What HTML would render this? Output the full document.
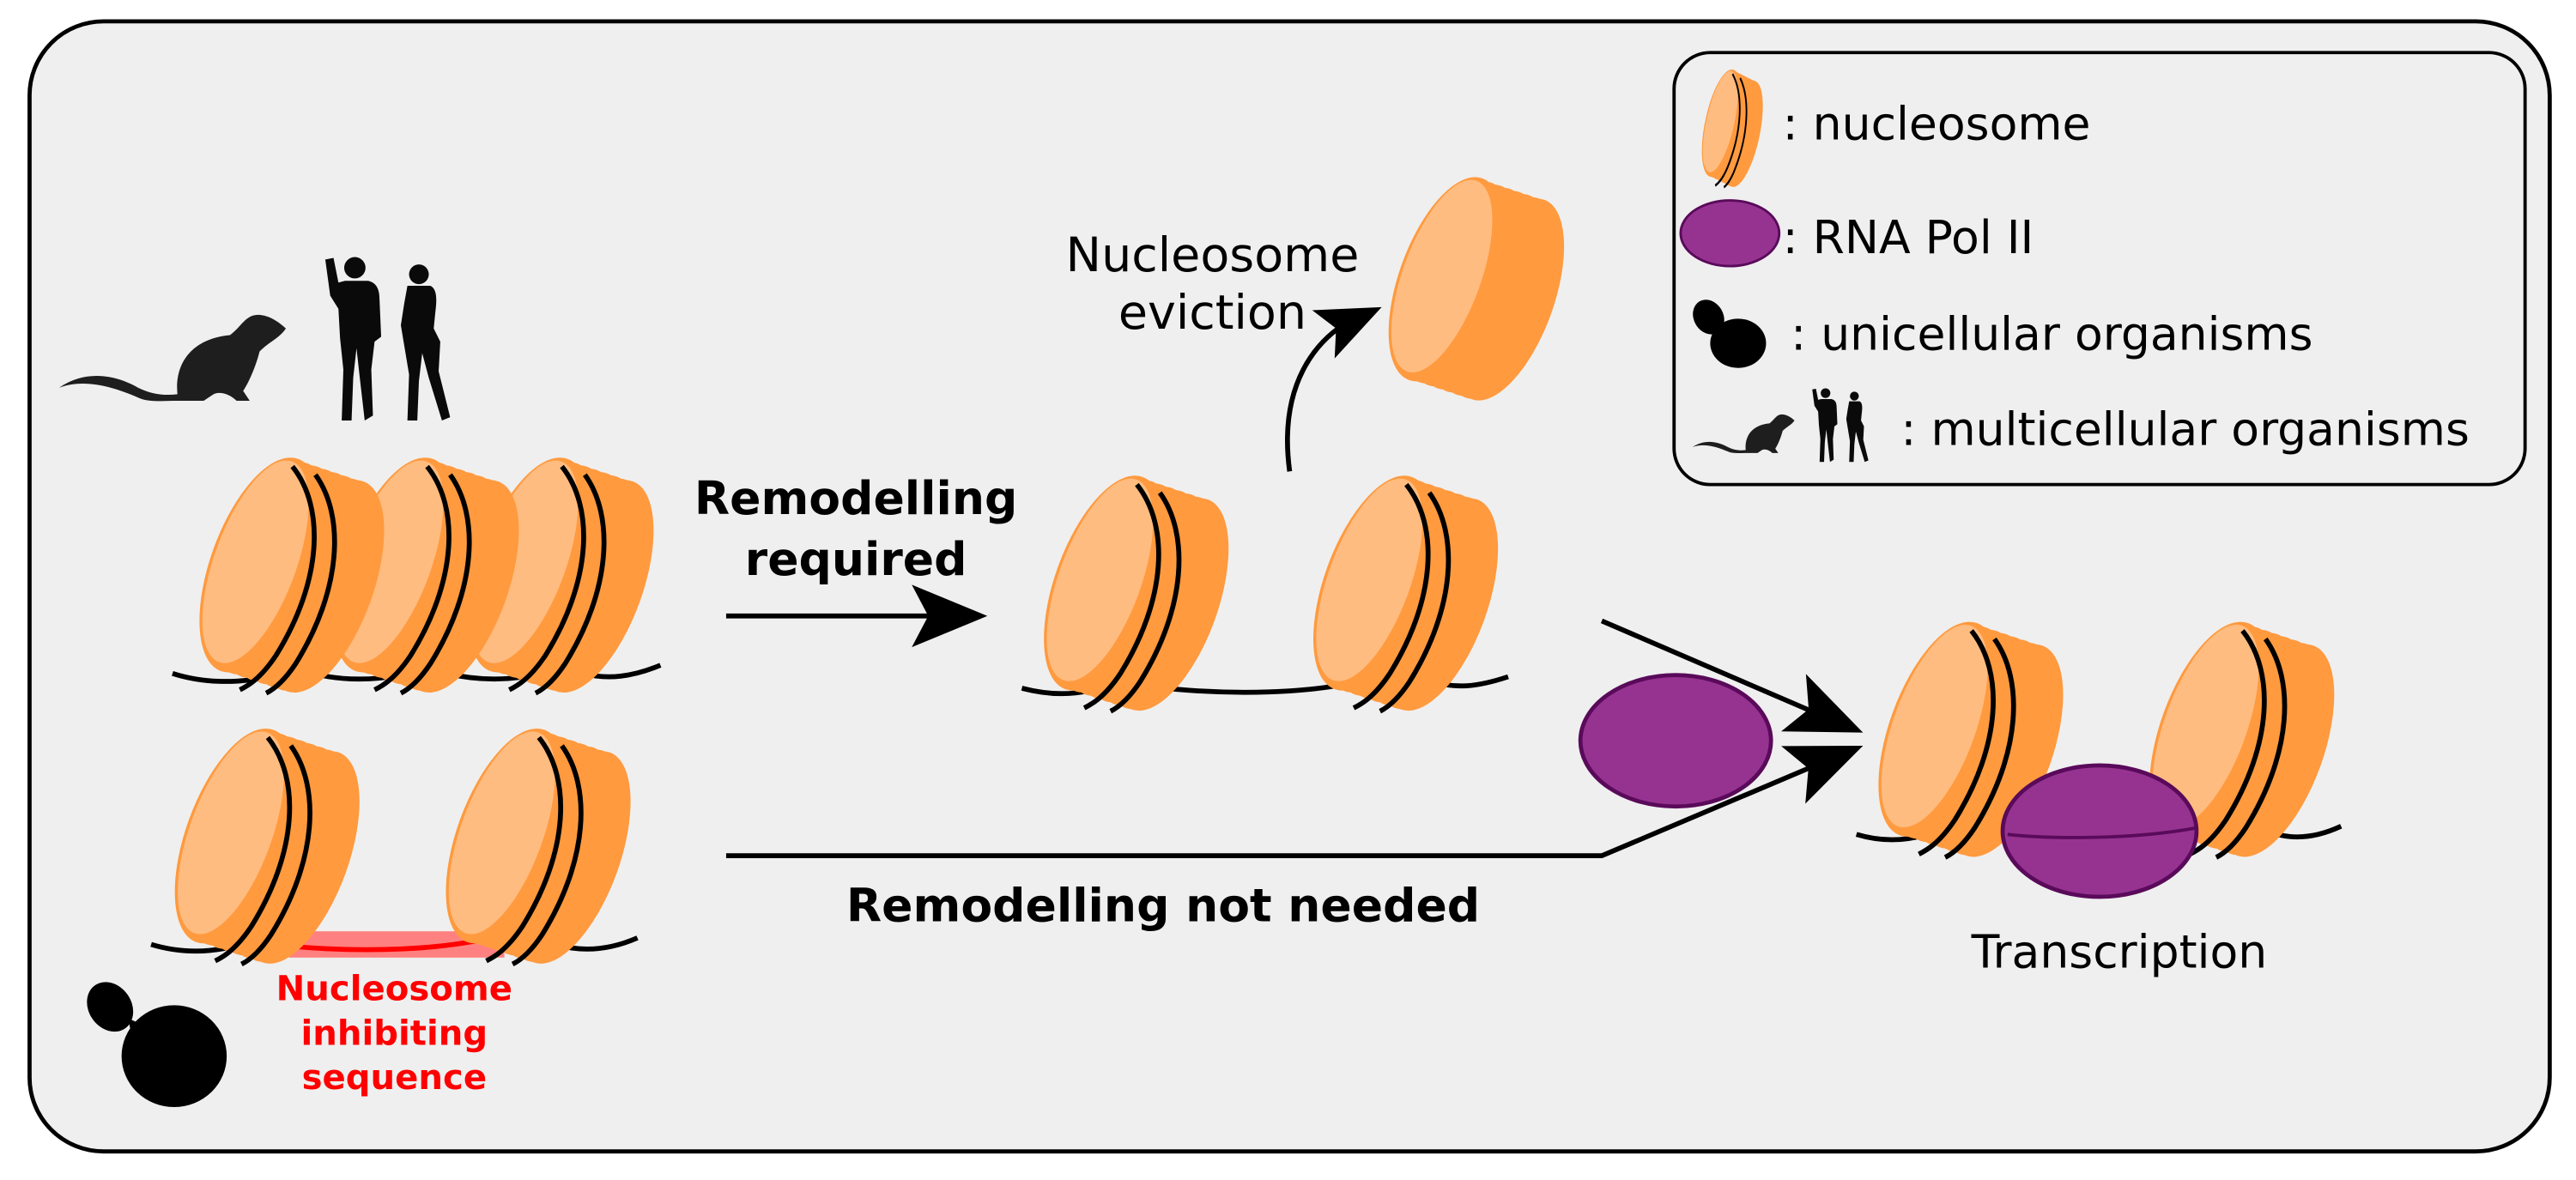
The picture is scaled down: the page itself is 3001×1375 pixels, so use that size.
<!DOCTYPE html>
<html><head><meta charset="utf-8"><style>
html,body{margin:0;padding:0;background:#fff;}
svg{display:block;}
text{font-family:"DejaVu Sans","Liberation Sans",sans-serif;}
</style></head><body>
<svg width="3001" height="1375" viewBox="0 0 1568 718.4" xmlns="http://www.w3.org/2000/svg">
<defs>
<g id="body">
  <ellipse cx="0" cy="0" rx="29" ry="68" transform="rotate(20)" fill="#ff9a3f"/>
  <ellipse cx="0" cy="0" rx="29" ry="68" transform="translate(6 2) rotate(20)" fill="#ff9a3f"/>
  <ellipse cx="0" cy="0" rx="29" ry="68" transform="translate(12 4) rotate(20)" fill="#ff9a3f"/>
  <ellipse cx="0" cy="0" rx="29" ry="68" transform="translate(18 6) rotate(20)" fill="#ff9a3f"/>
  <ellipse cx="0" cy="0" rx="29" ry="68" transform="translate(24 8) rotate(20)" fill="#ff9a3f"/>
  <ellipse cx="0" cy="0" rx="29" ry="68" transform="translate(30 10) rotate(20)" fill="#ff9a3f"/>
  <ellipse cx="0" cy="0" rx="29" ry="68" transform="translate(36 12) rotate(20)" fill="#ff9a3f"/>
  <ellipse cx="0" cy="0" rx="29" ry="68" transform="translate(40 13) rotate(20)" fill="#ff9a3f"/>
  <ellipse cx="0" cy="0" rx="29" ry="68" transform="rotate(20)" fill="#ff9a3f" stroke="#ff9a3f" stroke-width="1.5"/>
  <ellipse cx="-3" cy="-1" rx="25" ry="65" transform="rotate(20)" fill="#ffbc80"/>
</g>
<g id="nuc">
  <use href="#body"/>
  <path d="M20,-60 C40,-35 38,10 10,55 C0,70 -8,74 -12,76" fill="none" stroke="#000" stroke-width="3"/>
  <path d="M34,-55 C52,-30 50,15 22,60 C14,72 8,76 4,78" fill="none" stroke="#000" stroke-width="3"/>
</g>
<g id="mice">
  <path d="M36,236 C52,225 70,228 84,236 C92,240 100,241 108,240 C106,220 118,206 140,204 C148,198 150,190 160,192 C166,193 172,198 174,200 C170,206 164,208 158,214 C156,222 152,232 148,238 L152,244 L144,244 C140,240 134,238 130,240 L124,244 L108,244 C100,244 90,245 84,242 C70,236 52,230 36,236 Z" fill="#1e1e1e"/>
  <circle cx="216" cy="163" r="6.5" fill="#0a0a0a"/>
  <path d="M198,158 L203,157 L206,172 L210,171 L224,171 C229,172 231,176 231,182 L232,205 L228,208 L226,225 L227,253 L222,256 L219,230 L217,212 L215,230 L214,256 L208,256 L209,225 L207,206 L206,188 L201,180 Z" fill="#0a0a0a"/>
  <circle cx="255" cy="167" r="6" fill="#0a0a0a"/>
  <path d="M248,174 L262,174 C266,176 266,182 265,190 L264,200 L268,208 L267,226 L274,254 L269,256 L261,230 L257,215 L255,232 L254,256 L248,256 L249,228 L246,210 L244,198 L246,185 Z" fill="#0a0a0a"/>
</g>
<path id="ah" d="M0,0 L-46,-19 L-36,0 L-46,19 Z" fill="#000"/>
</defs>

<rect x="18" y="13" width="1534" height="688" rx="45" fill="#efefef" stroke="#000" stroke-width="2.5"/>

<!-- legend -->
<rect x="1019" y="32" width="518" height="263" rx="22" fill="#efefef" stroke="#000" stroke-width="2"/>
<g transform="translate(1048 75) scale(0.33 0.5)"><use href="#nuc"/></g>
<text x="1085" y="85" font-size="28">: nucleosome</text>
<ellipse cx="1053" cy="142" rx="30" ry="20" fill="#963391" stroke="#5a0a5a" stroke-width="1.5"/>
<text x="1085" y="154" font-size="28">: RNA Pol II</text>
<ellipse cx="1040" cy="193" rx="9" ry="11" transform="rotate(-30 1040 193)" fill="#000"/>
<ellipse cx="1058" cy="209" rx="17" ry="15" fill="#000"/>
<text x="1090" y="213" font-size="28">: unicellular organisms</text>
<use href="#mice" transform="translate(1014 166) scale(0.45)"/>
<text x="1157" y="271" font-size="28">: multicellular organisms</text>

<!-- organisms -->
<use href="#mice"/>
<ellipse cx="67" cy="613" rx="13" ry="16" transform="rotate(-35 67 613)" fill="#000"/>
<ellipse cx="106" cy="643" rx="32" ry="31" fill="#000"/>
<path d="M78,620 L96,628 L84,650 Z" fill="#000"/>

<!-- row 1 -->
<path d="M105,410 C130,418 160,416 185,405" stroke="#000" stroke-width="3" fill="none"/>
<path d="M190,410 C215,416 240,414 265,405" stroke="#000" stroke-width="3" fill="none"/>
<path d="M272,410 C297,416 322,414 347,405" stroke="#000" stroke-width="3" fill="none"/>
<path d="M355,410 C370,414 385,412 402,405" stroke="#000" stroke-width="3" fill="none"/>
<use href="#nuc" transform="translate(322 344)"/>
<use href="#nuc" transform="translate(240 344)"/>
<use href="#nuc" transform="translate(158 344)"/>

<!-- row 2 -->
<path d="M92,575 C115,582 140,580 165,568" stroke="#000" stroke-width="3" fill="none"/>
<rect x="176" y="567" width="131" height="16" fill="#ff8080"/>
<path d="M176,576 C220,580 270,579 307,569" stroke="#ff0000" stroke-width="3" fill="none"/>
<path d="M338,575 C355,580 372,578 388,571" stroke="#000" stroke-width="3" fill="none"/>
<use href="#nuc" transform="translate(143 509)"/>
<use href="#nuc" transform="translate(308 509)"/>
<text font-size="21" font-weight="bold" fill="#ff0000" text-anchor="middle"><tspan x="240" y="609">Nucleosome</tspan><tspan x="240" y="636">inhibiting</tspan><tspan x="240" y="663">sequence</tspan></text>

<!-- middle -->
<path d="M622,419 C645,425 665,423 685,412" stroke="#000" stroke-width="3" fill="none"/>
<path d="M700,418 C750,424 800,422 830,414" stroke="#000" stroke-width="3" fill="none"/>
<path d="M870,414 C885,420 900,418 918,412" stroke="#000" stroke-width="3" fill="none"/>
<use href="#nuc" transform="translate(672 355)"/>
<use href="#nuc" transform="translate(836 355)"/>
<g transform="translate(880 170) scale(0.95)"><use href="#body"/></g>
<path d="M785,287 C778,235 800,205 828,192" stroke="#000" stroke-width="3" fill="none"/>
<use href="#ah" transform="translate(841 187) rotate(-25) scale(0.85)"/>
<text font-size="29" text-anchor="middle"><tspan x="738" y="165">Nucleosome</tspan><tspan x="738" y="200">eviction</tspan></text>

<!-- arrows -->
<text font-size="28" font-weight="bold" text-anchor="middle"><tspan x="521" y="313">Remodelling</tspan><tspan x="521" y="350">required</tspan></text>
<line x1="442" y1="375" x2="575" y2="375" stroke="#000" stroke-width="3"/>
<use href="#ah" transform="translate(601 375)"/>
<polyline points="442,521 975,521 1105,466" stroke="#000" stroke-width="3" fill="none"/>
<use href="#ah" transform="translate(1134 454) rotate(-22.7)"/>
<line x1="975" y1="378" x2="1105" y2="434" stroke="#000" stroke-width="3"/>
<use href="#ah" transform="translate(1134 446) rotate(23.3)"/>
<text x="708" y="561" font-size="28" font-weight="bold" text-anchor="middle">Remodelling not needed</text>
<ellipse cx="1020" cy="451" rx="58" ry="40" fill="#963391" stroke="#5a0a5a" stroke-width="2.5"/>

<!-- right -->
<path d="M1130,508 C1150,514 1170,512 1190,500" stroke="#000" stroke-width="3" fill="none"/>
<path d="M1380,506 C1395,512 1410,510 1425,503" stroke="#000" stroke-width="3" fill="none"/>
<use href="#nuc" transform="translate(1180 444)"/>
<use href="#nuc" transform="translate(1345 444)"/>
<ellipse cx="1278" cy="506" rx="59" ry="40" fill="#963391" stroke="#5a0a5a" stroke-width="2.5"/>
<path d="M1222,508 C1250,511 1300,511 1337,504" stroke="#5a0a5a" stroke-width="2" fill="none"/>
<text x="1290" y="589" font-size="28" text-anchor="middle">Transcription</text>
</svg>
</body></html>
